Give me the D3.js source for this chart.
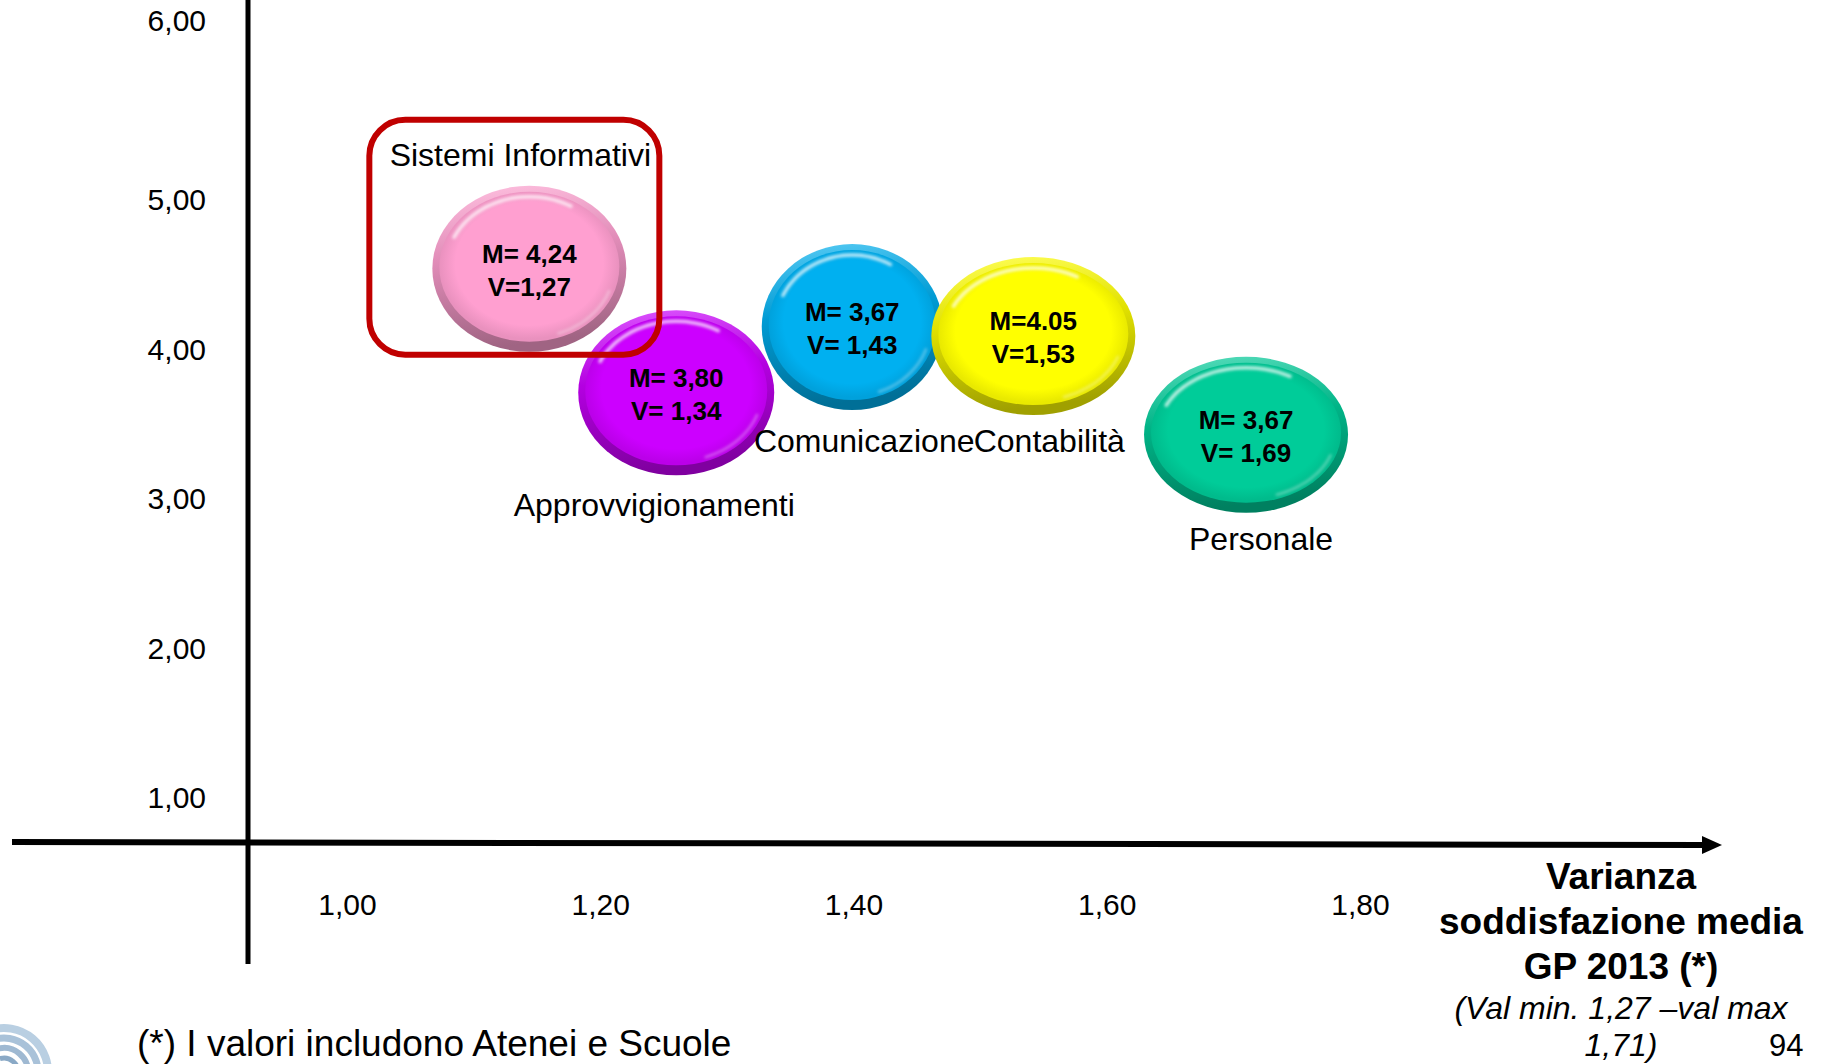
<!DOCTYPE html>
<html>
<head>
<meta charset="utf-8">
<script src="https://cdn.jsdelivr.net/npm/d3@7"></script>
<style>
  html, body { margin: 0; padding: 0; background: #ffffff; }
  svg { display: block; }
  text { font-family: "Liberation Sans", Arial, Helvetica, sans-serif; fill: #000; }
</style>
</head>
<body>
<svg id="chart" width="1825" height="1064"></svg>
<script>
// ---------------- DATA ----------------
const categories    = ["Sistemi Informativi", "Approvvigionamenti", "Comunicazione", "Contabilità", "Personale"];
const mediaText     = ["M= 4,24", "M= 3,80", "M= 3,67", "M=4.05", "M= 3,67"];
const varianzaText  = ["V=1,27", "V= 1,34", "V= 1,43", "V=1,53", "V= 1,69"];
// bubble positions as read on the drawn axes (axis units)
const plotX = [1.144, 1.260, 1.399, 1.542, 1.710];
const plotY = [4.54, 3.71, 4.15, 4.09, 3.43];
const xTicks = [1.0, 1.2, 1.4, 1.6, 1.8];
const yTicks = [1, 2, 3, 4, 5, 6];
const highlighted = "Sistemi Informativi";
const axisTitleLines = ["Varianza", "soddisfazione media", "GP 2013 (*)"];
const axisNoteLines  = ["(Val min. 1,27 \u2013val max", "1,71)"];
const footnote   = "(*) I valori includono Atenei e Scuole";
const pageNumber = "94";

// ---------------- LAYOUT / STYLE ----------------
const W = 1825, H = 1064;
const bubbleColors = ["#ff9fd0", "#cc00ff", "#00b0f0", "#ffff00", "#00cc99"];
const bubbleSize   = [[194, 166], [196, 165], [181, 166], [204, 158], [204, 156]];
const labelOffset  = [[-9, -114], [-22, 112], [12, 114], [16, 105], [15, 104]];

const svg = d3.select("#chart");
const defs = svg.append("defs");

const x = d3.scaleLinear().domain([1.0, 1.8]).range([347, 1360]);
const y = d3.scaleLinear().domain([1, 5, 6]).range([798, 200, 21]);
const fmt = d => d3.format(".2f")(d).replace(".", ",");

defs.append("filter").attr("id", "soft").attr("x", "-20%").attr("y", "-20%").attr("width", "140%").attr("height", "140%")
  .append("feGaussianBlur").attr("stdDeviation", 1.4);

// ---------------- AXES ----------------
svg.append("line").attr("x1", 248).attr("x2", 248).attr("y1", 0).attr("y2", 964)
  .attr("stroke", "#000").attr("stroke-width", 5);
svg.append("line").attr("x1", 12).attr("y1", 842).attr("x2", 1706).attr("y2", 845)
  .attr("stroke", "#000").attr("stroke-width", 6);
svg.append("path").attr("d", "M1702,836 L1722,845 L1702,854 Z").attr("fill", "#000");

const gy = svg.append("g").attr("transform", "translate(206,0)")
  .call(d3.axisLeft(y).tickValues(yTicks).tickFormat(fmt).tickSize(0).tickPadding(0));
gy.select(".domain").remove();
gy.selectAll("text").attr("font-size", 30).attr("font-family", "Liberation Sans, Arial, sans-serif").attr("fill", "#000");

const gx = svg.append("g").attr("transform", "translate(0,904)")
  .call(d3.axisBottom(x).tickValues(xTicks).tickFormat(fmt).tickSize(0).tickPadding(0));
gx.select(".domain").remove();
gx.selectAll("text").attr("font-size", 30).attr("dy", "0.35em").attr("font-family", "Liberation Sans, Arial, sans-serif").attr("fill", "#000");

// ---------------- BUBBLES ----------------
const data = categories.map((c, i) => ({
  name: c, m: mediaText[i], v: varianzaText[i],
  cx: x(plotX[i]), cy: y(plotY[i]),
  w: bubbleSize[i][0], h: bubbleSize[i][1],
  color: bubbleColors[i], off: labelOffset[i], i
}));

data.forEach(d => {
  const c = d3.color(d.color);
  const lg = defs.append("linearGradient").attr("id", "rim" + d.i)
    .attr("x1", 0).attr("y1", 0).attr("x2", 0.15).attr("y2", 1);
  lg.append("stop").attr("offset", 0).attr("stop-color", d3.interpolateRgb(d.color, "#ffffff")(0.35));
  lg.append("stop").attr("offset", 0.45).attr("stop-color", c.darker(0.35));
  lg.append("stop").attr("offset", 1).attr("stop-color", c.darker(1.3));

  const rg = defs.append("radialGradient").attr("id", "inner" + d.i)
    .attr("cx", 0.5).attr("cy", 0.48).attr("r", 0.5);
  rg.append("stop").attr("offset", 0.82).attr("stop-color", d.color);
  rg.append("stop").attr("offset", 1).attr("stop-color", c.darker(0.25));
});

const bubbles = svg.append("g").selectAll("g.bubble").data(data).join("g").attr("class", "bubble");

bubbles.append("ellipse")
  .attr("cx", d => d.cx).attr("cy", d => d.cy)
  .attr("rx", d => d.w / 2).attr("ry", d => d.h / 2)
  .attr("fill", d => `url(#rim${d.i})`);

bubbles.append("ellipse")
  .attr("cx", d => d.cx).attr("cy", d => d.cy - 2)
  .attr("rx", d => d.w / 2 - 7).attr("ry", d => d.h / 2 - 8)
  .attr("fill", d => `url(#inner${d.i})`);

bubbles.append("path")
  .attr("d", d => {
    const a = d.w / 2 - 14, b = d.h / 2 - 13;
    const pts = d3.range(205, 301, 5).map(t => {
      const r = t * Math.PI / 180;
      return [d.cx + a * Math.cos(r), d.cy - 2 + b * Math.sin(r)];
    });
    return d3.line().curve(d3.curveCatmullRom)(pts);
  })
  .attr("fill", "none").attr("stroke", "#ffffff").attr("stroke-opacity", 0.75)
  .attr("stroke-width", 3.5).attr("stroke-linecap", "round").attr("filter", "url(#soft)");

bubbles.append("path")
  .attr("d", d => {
    const a = d.w / 2 - 12, b = d.h / 2 - 12;
    const pts = d3.range(20, 71, 5).map(t => {
      const r = t * Math.PI / 180;
      return [d.cx + a * Math.cos(r), d.cy - 2 + b * Math.sin(r)];
    });
    return d3.line().curve(d3.curveCatmullRom)(pts);
  })
  .attr("fill", "none").attr("stroke", "#ffffff").attr("stroke-opacity", 0.35)
  .attr("stroke-width", 2.5).attr("stroke-linecap", "round").attr("filter", "url(#soft)");

bubbles.append("text")
  .attr("x", d => d.cx).attr("y", d => d.cy - 15)
  .attr("text-anchor", "middle").attr("dy", "0.35em")
  .attr("font-size", 26).attr("font-weight", "bold")
  .text(d => d.m);
bubbles.append("text")
  .attr("x", d => d.cx).attr("y", d => d.cy + 18)
  .attr("text-anchor", "middle").attr("dy", "0.35em")
  .attr("font-size", 26).attr("font-weight", "bold")
  .text(d => d.v);

svg.append("g").selectAll("text").data(data).join("text")
  .attr("x", d => d.cx + d.off[0]).attr("y", d => d.cy + d.off[1])
  .attr("text-anchor", "middle").attr("dy", "0.35em")
  .attr("font-size", 32)
  .text(d => d.name);

const hl = data.find(d => d.name === highlighted);
svg.append("rect")
  .attr("x", hl.cx - 160).attr("y", hl.cy - 149)
  .attr("width", 290).attr("height", 235)
  .attr("rx", 36).attr("ry", 36)
  .attr("fill", "none").attr("stroke", "#c00000").attr("stroke-width", 6);

// ---------------- AXIS TITLE ----------------
const titleX = 1621;
svg.append("g").selectAll("text").data(axisTitleLines).join("text")
  .attr("x", titleX).attr("y", (d, i) => 889 + i * 45)
  .attr("text-anchor", "middle").attr("font-size", 37).attr("font-weight", "bold")
  .text(d => d);
svg.append("g").selectAll("text").data(axisNoteLines).join("text")
  .attr("x", titleX).attr("y", (d, i) => 1019 + i * 37)
  .attr("text-anchor", "middle").attr("font-size", 32).attr("font-style", "italic")
  .text(d => d);

// ---------------- FOOTER ----------------
svg.append("text").attr("x", 137).attr("y", 1056).attr("font-size", 37).text(footnote);
svg.append("text").attr("x", 1769).attr("y", 1056).attr("font-size", 31).text(pageNumber);

const logo = svg.append("g").attr("fill", "none").attr("stroke-linecap", "round");
[[44, "#b9cfe2", 8], [34, "#a9c2d9", 7], [24, "#9fb9d2", 6], [14, "#8aa9c6", 5]].forEach(([r, col, sw]) => {
  logo.append("path")
    .attr("d", d3.arc().innerRadius(r).outerRadius(r).startAngle(-0.3).endAngle(1.7)())
    .attr("transform", "translate(4,1072)")
    .attr("stroke", col).attr("stroke-width", sw);
});
</script>
</body>
</html>
